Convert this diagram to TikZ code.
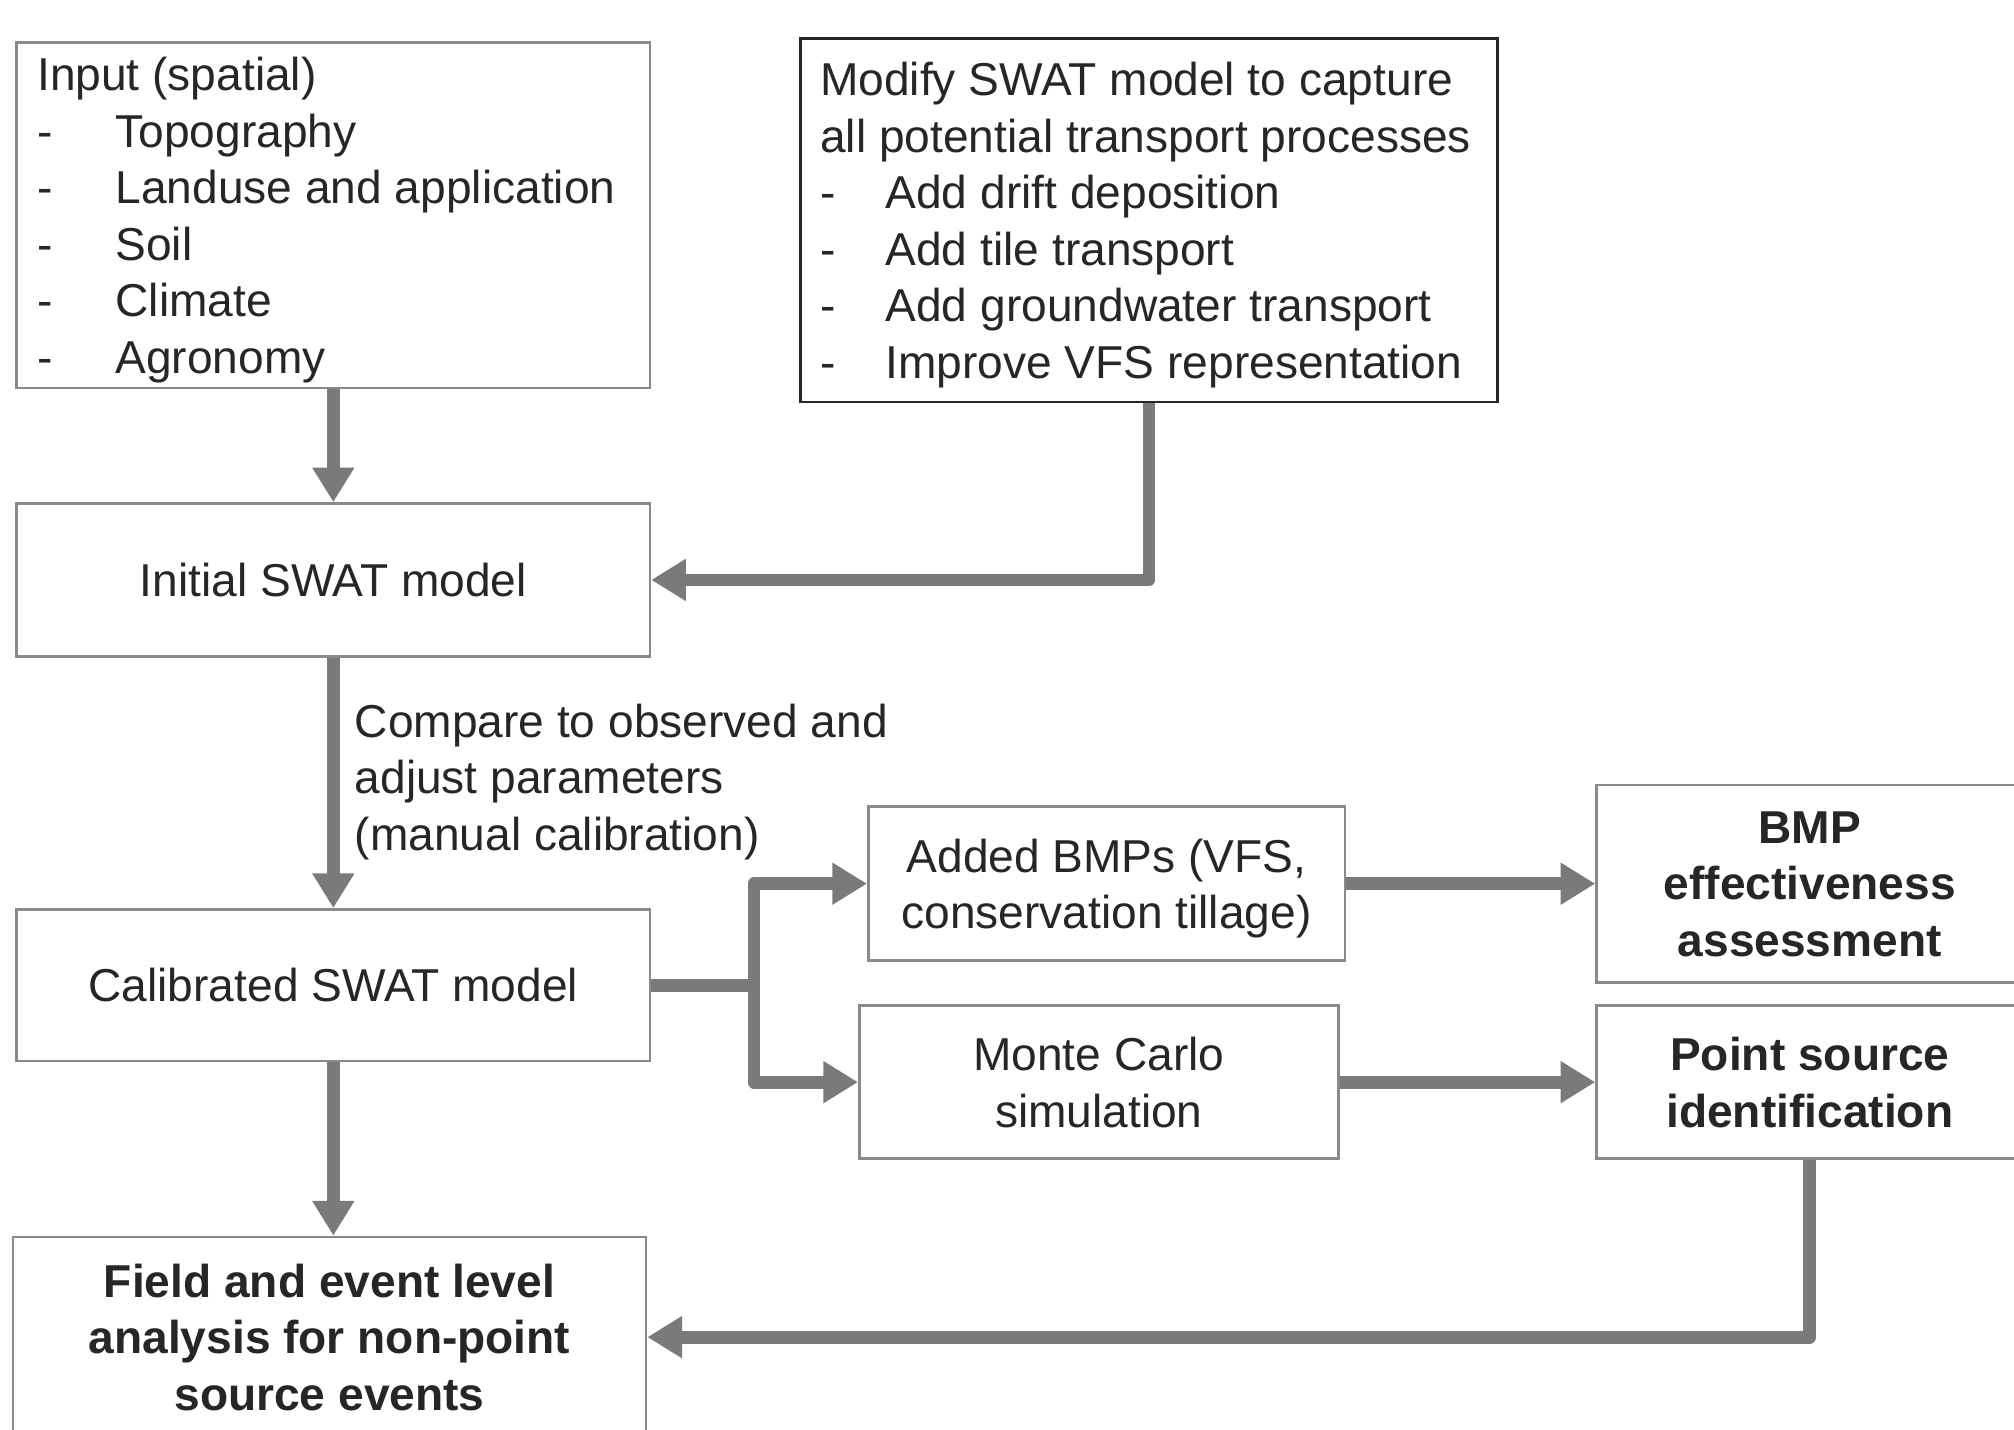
\documentclass[tikz,border=0pt]{standalone}
\usepackage{fontspec}
\setmainfont{Liberation Sans}
\usetikzlibrary{arrows.meta}
\definecolor{boxgray}{HTML}{8A8A8A}
\definecolor{arrowgray}{HTML}{7A7A7A}
\definecolor{inkgray}{HTML}{262626}

\begin{document}
\begin{tikzpicture}[x=1pt,y=-1pt,
  every node/.style={text=inkgray, font=\fontsize{35.9}{44}\selectfont, text depth=0pt},
  box/.style={draw=boxgray, line width=2pt, fill=white, inner sep=0pt, align=center},
  listbox/.style={box, align=left},
  strong/.style={font=\fontsize{35.9}{44}\selectfont\bfseries},
  flow/.style={draw=arrowgray, line width=10pt, line join=round,
               -{Triangle[length=27pt,width=31pt]}},
]
\useasboundingbox (0,0) rectangle (1568,1113);
\clip (0,0) rectangle (1568,1113);

% input data and model modifications (first line sets the column width)
\node[listbox, minimum width=493pt, minimum height=269pt, inner xsep=16pt] (input) at (259.5,167.5)
  {\makebox[461pt][l]{Input (spatial)}\\
   \makebox[61pt][l]{-}Topography\\
   \makebox[61pt][l]{-}Landuse and application\\
   \makebox[61pt][l]{-}Soil\\
   \makebox[61pt][l]{-}Climate\\
   \makebox[61pt][l]{-}Agronomy};
\node[listbox, draw=inkgray, minimum width=543pt, minimum height=283pt, inner xsep=15.5pt] (modify) at (894.5,171.5)
  {\makebox[512pt][l]{Modify SWAT model to capture}\\
   all potential transport processes\\
   \makebox[51pt][l]{-}Add drift deposition\\
   \makebox[51pt][l]{-}Add tile transport\\
   \makebox[51pt][l]{-}Add groundwater transport\\
   \makebox[51pt][l]{-}Improve VFS representation};

% model stages
\node[box, minimum width=493pt, minimum height=119pt] (initial) at (259.5,451.5) {Initial SWAT model};
\node[box, minimum width=493pt, minimum height=118pt] (calib) at (259.5,767) {Calibrated SWAT model};
\node[box, strong, minimum width=493pt, minimum height=156pt] (field) at (256.5,1041)
  {Field and event level\\analysis for non-point\\source events};

% scenarios and outcomes
\node[box, minimum width=371pt, minimum height=120pt] (bmps) at (861.5,688)
  {Added BMPs (VFS,\\conservation tillage)};
\node[box, minimum width=373pt, minimum height=119pt] (monte) at (855.5,842.5)
  {Monte Carlo\\simulation};
\node[box, strong, minimum width=332pt, minimum height=154pt] (eff) at (1409,688)
  {BMP\\effectiveness\\assessment};
\node[box, strong, minimum width=332pt, minimum height=119pt] (point) at (1409,842.5)
  {Point source\\identification};

\node[anchor=west, align=left, inner sep=0pt] (calnote) at (276,605)
  {Compare to observed and\\adjust parameters\\(manual calibration)};

% connectors
\draw[flow] (input) -- (initial);
\draw[flow] (modify.south) |- (initial.east);
\draw[flow] (initial) -- (calib);
\draw[flow] (calib.south) -- (calib.south |- field.north);
\coordinate (split) at (587,767);
\draw[flow, -] (calib.east) -- (split);
\draw[flow] (split) |- (bmps.west);
\draw[flow] (split) |- (monte.west);
\draw[flow] (bmps) -- (eff);
\draw[flow] (monte) -- (point);
\draw[flow] (point.south) |- (field.east);
\end{tikzpicture}
\end{document}
